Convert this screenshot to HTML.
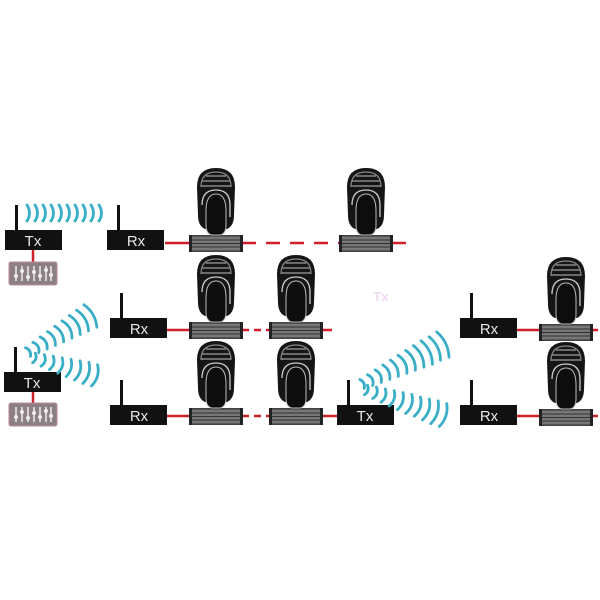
<!DOCTYPE html>
<html><head><meta charset="utf-8"><style>
html,body{margin:0;padding:0;background:#fff;width:600px;height:600px;overflow:hidden}
svg{display:block}
text{font-family:"Liberation Sans",sans-serif}
</style></head><body>
<svg width="600" height="600" viewBox="0 0 600 600" xmlns="http://www.w3.org/2000/svg">
<defs>
  <g id="fix">
    <rect x="0" y="0" width="52" height="17" fill="#555"/>
    <rect x="1" y="1" width="50" height="15" fill="#777" stroke="#333" stroke-width="1"/>
    <line x1="1" y1="5" x2="51" y2="5" stroke="#333" stroke-width="1"/>
    <line x1="1" y1="8.5" x2="51" y2="8.5" stroke="#333" stroke-width="1"/>
    <line x1="1" y1="12" x2="51" y2="12" stroke="#333" stroke-width="1"/>
    <rect x="-1" y="0" width="3" height="17" fill="#222"/>
    <rect x="50" y="0" width="3" height="17" fill="#222"/>
    <path d="M8,-20 L7,-48 Q7,-67 26,-67 Q45,-67 45,-48 L44,-20 Q44,-9 37,-6 L15,-6 Q8,-9 8,-20 Z" fill="#151515"/>
    <path d="M11,-48 Q11,-63 26,-63 Q41,-63 41,-48" fill="none" stroke="#888" stroke-width="1.2"/>
    <line x1="16" y1="-59" x2="36" y2="-59" stroke="#888" stroke-width="1.5"/>
    <line x1="12" y1="-54" x2="40" y2="-54" stroke="#888" stroke-width="1.5"/>
    <line x1="11" y1="-49" x2="41" y2="-49" stroke="#888" stroke-width="1.5"/>
    <path d="M12,-30 Q12,-45 26,-45 Q40,-45 40,-30 L40,-18" fill="none" stroke="#ccc" stroke-width="1.3"/>
    <path d="M16,-24 Q16,-41 26,-41 Q36,-41 36,-24 L36,-10 Q36,-1 30,0 L22,0 Q16,-1 16,-10 Z" fill="#0d0d0d" stroke="#bbb" stroke-width="1"/>
  </g>
  <g id="tx">
    <rect x="0" y="0" width="57" height="20" fill="#111"/>
    <rect x="10" y="-25" width="3" height="26" fill="#111"/>
  </g>
  <g id="mix">
    <rect x="0" y="0" width="48" height="23" rx="2" fill="#8c8083" stroke="#b89" stroke-width="1"/>
    <g stroke="#eee" stroke-width="1.5">
      <line x1="7" y1="4" x2="7" y2="19"/><line x1="13" y1="4" x2="13" y2="19"/>
      <line x1="19" y1="4" x2="19" y2="19"/><line x1="25" y1="4" x2="25" y2="19"/>
      <line x1="31" y1="4" x2="31" y2="19"/><line x1="37" y1="4" x2="37" y2="19"/>
      <line x1="42" y1="4" x2="42" y2="19"/>
    </g>
    <g fill="#eee">
      <circle cx="7" cy="14" r="2"/><circle cx="13" cy="9" r="2"/><circle cx="19" cy="15" r="2"/>
      <circle cx="25" cy="10" r="2"/><circle cx="31" cy="14" r="2"/><circle cx="37" cy="8" r="2"/><circle cx="42" cy="13" r="2"/>
    </g>
  </g>
</defs>

<g fill="none" stroke="#d0202a" stroke-width="2.5">
  <line x1="33" y1="250" x2="33" y2="262"/>
  <line x1="165" y1="243" x2="190" y2="243"/>
  <line x1="242" y1="243" x2="340" y2="243" stroke-dasharray="14,10"/>
  <line x1="392" y1="243" x2="406" y2="243"/>
  <line x1="167" y1="330" x2="190" y2="330"/>
  <line x1="242" y1="330" x2="270" y2="330" stroke-dasharray="7,5"/>
  <line x1="322" y1="330" x2="332" y2="330"/>
  <line x1="517" y1="330" x2="540" y2="330"/>
  <line x1="592" y1="330" x2="598" y2="330"/>
  <line x1="33" y1="392" x2="33" y2="403"/>
  <line x1="167" y1="416" x2="190" y2="416"/>
  <line x1="242" y1="416" x2="270" y2="416" stroke-dasharray="7,5"/>
  <line x1="322" y1="416" x2="337" y2="416"/>
  <line x1="517" y1="416" x2="540" y2="416"/>
  <line x1="592" y1="416" x2="598" y2="416"/>
</g>

<g fill="#e8e8e8" font-size="15" text-anchor="middle">
<use href="#tx" x="5" y="230"/><text x="33" y="246">Tx</text>
<use href="#mix" x="9" y="262"/>
<use href="#tx" x="107" y="230"/><text x="136" y="246">Rx</text>
<use href="#tx" x="110" y="318"/><text x="139" y="334">Rx</text>
<use href="#tx" x="4" y="372"/><text x="32" y="388">Tx</text>
<use href="#mix" x="9" y="403"/>
<use href="#tx" x="110" y="405"/><text x="139" y="421">Rx</text>
<use href="#tx" x="337" y="405"/><text x="365" y="421">Tx</text>
<use href="#tx" x="460" y="318"/><text x="489" y="334">Rx</text>
<use href="#tx" x="460" y="405"/><text x="489" y="421">Rx</text>
</g>

<text x="381" y="301" fill="#f0d8f0" font-size="13" font-weight="bold" text-anchor="middle">Tx</text>

<use href="#fix" x="190" y="235"/>
<use href="#fix" x="340" y="235"/>
<use href="#fix" x="190" y="322"/>
<use href="#fix" x="270" y="322"/>
<use href="#fix" x="540" y="324"/>
<use href="#fix" x="190" y="408"/>
<use href="#fix" x="270" y="408"/>
<use href="#fix" x="540" y="409"/>

<g fill="none" stroke="#3aaec6" stroke-width="2.8" stroke-linecap="round">
  <g transform="translate(27,213)">
    <path d="M0,-8 Q5,0 0,8"/><path d="M8,-8 Q13,0 8,8"/><path d="M16,-8 Q21,0 16,8"/>
    <path d="M24,-8 Q29,0 24,8"/><path d="M32,-8 Q37,0 32,8"/><path d="M40,-8 Q45,0 40,8"/>
    <path d="M48,-8 Q53,0 48,8"/><path d="M56,-8 Q61,0 56,8"/><path d="M64,-8 Q69,0 64,8"/>
    <path d="M72,-8 Q77,0 72,8"/>
  </g>
  <g transform="translate(28,352) rotate(-30)">
    <path d="M0,-5 Q4,0 0,5"/><path d="M9,-6 Q14,0 9,6"/><path d="M18,-7 Q23,0 18,7"/>
    <path d="M27,-8 Q32,0 27,8"/><path d="M36,-9 Q41,0 36,9"/><path d="M45,-10 Q51,0 45,10"/>
    <path d="M54,-11 Q60,0 54,11"/><path d="M63,-12 Q69,0 63,12"/><path d="M72,-13 Q78,0 72,13"/>
  </g>
  <g transform="translate(34,358) rotate(16)">
    <path d="M0,-5 Q4,0 0,5"/><path d="M9,-6 Q14,0 9,6"/><path d="M18,-7 Q23,0 18,7"/>
    <path d="M27,-8 Q32,0 27,8"/><path d="M36,-9 Q41,0 36,9"/><path d="M45,-10 Q51,0 45,10"/>
    <path d="M54,-11 Q60,0 54,11"/><path d="M63,-11 Q69,0 63,11"/>
  </g>
  <g transform="translate(362,384) rotate(-26)">
    <path d="M0,-5 Q4,0 0,5"/><path d="M9,-6 Q14,0 9,6"/><path d="M18,-7 Q23,0 18,7"/>
    <path d="M27,-8 Q32,0 27,8"/><path d="M36,-9 Q41,0 36,9"/><path d="M45,-10 Q51,0 45,10"/>
    <path d="M54,-11 Q60,0 54,11"/><path d="M63,-12 Q69,0 63,12"/><path d="M72,-13 Q78,0 72,13"/>
    <path d="M81,-13 Q87,0 81,13"/><path d="M90,-14 Q96,0 90,14"/>
  </g>
  <g transform="translate(366,390) rotate(18)">
    <path d="M0,-5 Q4,0 0,5"/><path d="M9,-6 Q14,0 9,6"/><path d="M18,-7 Q23,0 18,7"/>
    <path d="M27,-8 Q32,0 27,8"/><path d="M36,-9 Q41,0 36,9"/><path d="M45,-10 Q51,0 45,10"/>
    <path d="M54,-10 Q60,0 54,10"/><path d="M63,-11 Q69,0 63,11"/><path d="M72,-12 Q78,0 72,12"/>
    <path d="M81,-12 Q87,0 81,12"/>
  </g>
</g>
</svg>
</body></html>
